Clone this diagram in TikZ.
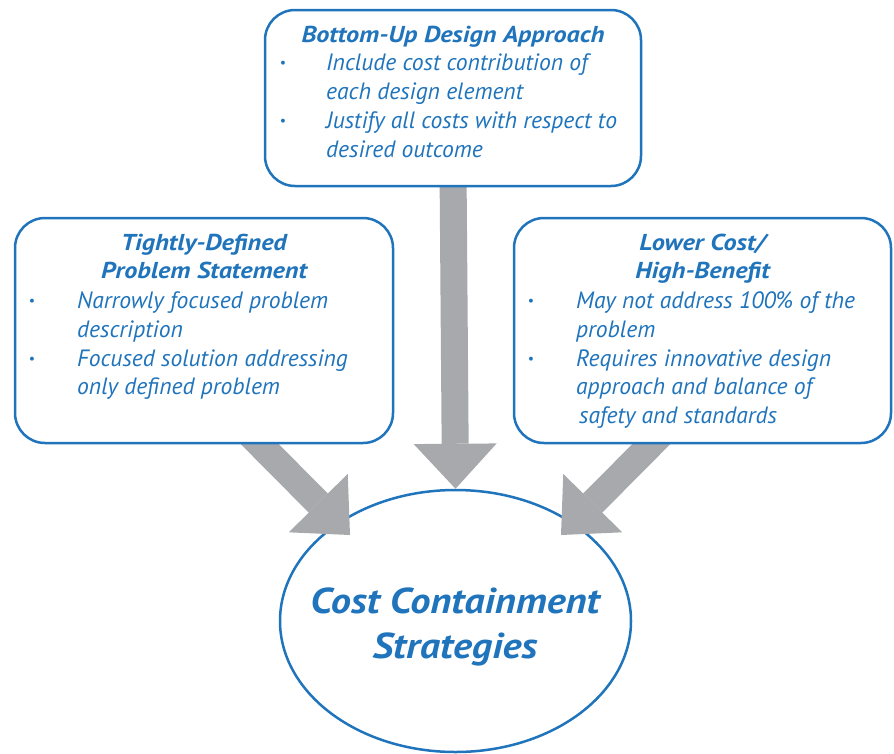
\documentclass[tikz,border=0pt]{standalone}
\usepackage{fontspec}
\setmainfont{PT Sans}
\newfontfamily\ttlfont[FakeStretch=1.14]{PT Sans}
\newfontfamily\bigfont[FakeStretch=1.12]{PT Sans}
\usetikzlibrary{shapes.geometric,arrows.meta,calc}
\definecolor{cblue}{HTML}{1F74BC}
\definecolor{agray}{HTML}{A7A9AC}
\pgfdeclarelayer{fg}
\pgfsetlayers{main,fg}
\begin{document}
\begin{tikzpicture}[x=1pt,y=-1pt,
  box/.style={draw=cblue, line width=2.5pt, rounded corners=30pt, fill=white, inner sep=0pt},
  ttl/.style={anchor=base, inner sep=0pt, text=cblue, font=\ttlfont\fontsize{23}{26}\selectfont\bfseries\itshape},
  bodytxt/.style={anchor=base west, inner sep=0pt, text=cblue, font=\fontsize{23.6}{29}\selectfont\itshape},
  bul/.style={anchor=center, inner sep=0pt, text=cblue, font=\fontsize{14}{14}\selectfont},
  bigtxt/.style={anchor=base, inner sep=0pt, text=cblue, font=\bigfont\fontsize{36}{44}\selectfont\bfseries\itshape},
  bigarrow/.style={agray, line width=27pt, -{Triangle[width=83pt,length=45pt,line width=0pt]}}
]
\useasboundingbox (0,0) rectangle (894,753);
\begin{pgfonlayer}{fg}
% top box
\node[box, minimum width=376pt, minimum height=176pt] (T) at (453,98) {};
\node[ttl] (Tt) at (453,42) {Bottom-Up Design Approach};
\node[bul] (Tb1) at (283,64) {\textbullet};
\node[bul] (Tb2) at (283,122) {\textbullet};
\node[bodytxt] (T1) at (326,70) {Include cost contribution of};
\node[bodytxt] (T2) at (326,99) {each design element};
\node[bodytxt] (T3) at (326,128) {Justify all costs with respect to};
\node[bodytxt] (T4) at (326,157) {desired outcome};
% left box
\node[box, minimum width=378pt, minimum height=225pt] (L) at (204,330.5) {};
\node[ttl] (Lt1) at (204,250) {Tightly-Defined};
\node[ttl] (Lt2) at (204,278) {Problem Statement};
\node[bul] (Lb1) at (32,302) {\textbullet};
\node[bul] (Lb2) at (32,360) {\textbullet};
\node[bodytxt] (L1) at (77,308) {Narrowly focused problem};
\node[bodytxt] (L2) at (77,337) {description};
\node[bodytxt] (L3) at (77,366) {Focused solution addressing};
\node[bodytxt] (L4) at (77,394) {only defined problem};
% right box
\node[box, minimum width=377pt, minimum height=225pt] (R) at (702.5,330.5) {};
\node[ttl] (Rt1) at (702.5,250) {Lower Cost/};
\node[ttl] (Rt2) at (702.5,278) {High-Benefit};
\node[bul] (Rb1) at (531,302) {\textbullet};
\node[bul] (Rb2) at (531,360) {\textbullet};
\node[bodytxt] (R1) at (576,308) {May not address 100\% of the};
\node[bodytxt] (R2) at (576,337) {problem};
\node[bodytxt] (R3) at (576,366) {Requires innovative design};
\node[bodytxt] (R4) at (576,394) {approach and balance of};
\node[bodytxt] (R5) at (579,423) {safety and standards};
\end{pgfonlayer}
% ellipse
\node[ellipse, draw=cblue, line width=2.5pt, fill=white, inner sep=0pt,
      minimum width=351pt, minimum height=262pt] (E) at (455.5,621) {};
\node[bigtxt] (E1) at (455,613) {Cost Containment};
\node[bigtxt] (E2) at (455,658) {Strategies};
% arrows
\coordinate (Ls) at ($(L.south)+(36,-20)$);
\coordinate (Le) at ($(E.center)+(-105.5,-86)$);
\coordinate (Rs) at ($(R.south)+(-31.5,-20)$);
\coordinate (Re) at ($(E.center)+(105.5,-86)$);
\draw[bigarrow] ($(T.south)+(0,-20)$) -- (E.north);
\draw[bigarrow] (Ls) -- (Le);
\draw[bigarrow] (Rs) -- (Re);
\end{tikzpicture}
\end{document}
